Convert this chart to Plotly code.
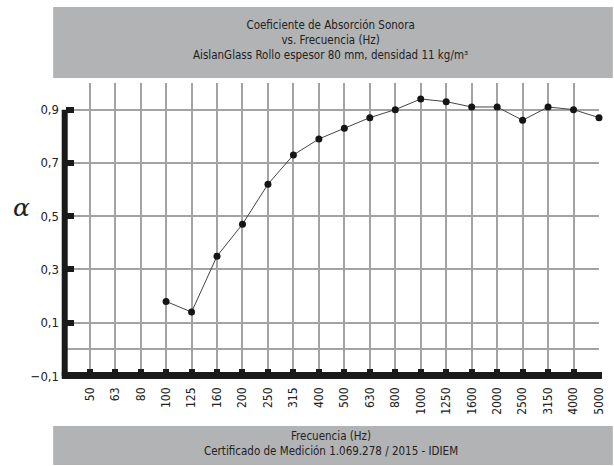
import plotly.graph_objects as go

# ---- data ----
frequencies = ["50", "63", "80", "100", "125", "160", "200", "250", "315", "400",
               "500", "630", "800", "1000", "1250", "1600", "2000", "2500", "3150",
               "4000", "5000"]
alpha_values = [None, None, None, 0.18, 0.14, 0.35, 0.47, 0.62, 0.73, 0.79,
                0.83, 0.87, 0.90, 0.94, 0.93, 0.91, 0.91, 0.86, 0.91, 0.90, 0.87]
y_tick_values = [-0.1, 0.1, 0.3, 0.5, 0.7, 0.9]
y_minor_grid = [0.0]

title_lines = ["Coeficiente de Absorción Sonora", "vs. Frecuencia (Hz)",
               "AislanGlass Rollo espesor 80 mm, densidad 11 kg/m³"]
footer_lines = ["Frecuencia (Hz)", "Certificado de Medición 1.069.278 / 2015 - IDIEM"]

FONT = "DejaVu Sans Condensed, Liberation Sans Narrow, Roboto, sans-serif"
BOX = "#b1b3b5"
GRID = "#a3a3a3"

x_idx = list(range(len(frequencies)))

fig = go.Figure()
fig.add_trace(go.Scatter(
    x=x_idx, y=alpha_values, mode="lines+markers",
    line=dict(color="#444444", width=1),
    marker=dict(color="#151515", size=7),
    cliponaxis=False, hoverinfo="skip", showlegend=False,
))

W, H = 614, 466
ml, mr, mt, mb = 66, 8, 83, 90
pw, ph = W - ml - mr, H - mt - mb


def px(x):
    return (x - ml) / pw


def py(y):
    return (H - mb - y) / ph


shapes = [
    # title box
    dict(type="rect", xref="paper", yref="paper", x0=px(53), x1=px(620), y0=py(78), y1=py(7),
         fillcolor=BOX, line=dict(width=0), layer="below"),
    # footer box
    dict(type="rect", xref="paper", yref="paper", x0=px(53), x1=px(620), y0=py(465), y1=py(426),
         fillcolor=BOX, line=dict(width=0), layer="below"),
    # thick y axis line (from -0.1 to 0.9)
    dict(type="line", xref="paper", yref="y", x0=px(64.7), x1=px(64.7),
         y0=y_tick_values[0], y1=y_tick_values[-1], line=dict(color="#1a1a1a", width=6)),
    # thick x axis line
    dict(type="line", xref="paper", yref="paper", x0=px(61.7), x1=px(609), y0=py(375.5), y1=py(375.5),
         line=dict(color="#1a1a1a", width=7)),
]

annotations = [
    dict(text="<br>".join(title_lines), xref="paper", yref="paper", x=px(334), y=py(40),
         xanchor="center", yanchor="middle", showarrow=False,
         font=dict(family=FONT, size=11.5, color="#222222")),
    dict(text="<br>".join(footer_lines), xref="paper", yref="paper", x=px(334), y=py(443),
         xanchor="center", yanchor="middle", showarrow=False,
         font=dict(family=FONT, size=11.5, color="#222222")),
    dict(text="<i>α</i>", xref="paper", yref="paper", x=px(21), y=py(207),
         xanchor="center", yanchor="middle", showarrow=False,
         font=dict(family="DejaVu Serif, Liberation Serif, serif", size=25, color="#222222")),
]

fig.update_layout(
    width=W, height=H,
    margin=dict(l=ml, r=mr, t=mt, b=mb),
    paper_bgcolor="white", plot_bgcolor="white",
    separators=",.",
    shapes=shapes, annotations=annotations,
    font=dict(family=FONT, size=13, color="#222222"),
)

fig.update_xaxes(
    range=[-0.93, len(frequencies) - 1],
    tickmode="array", tickvals=x_idx, ticktext=frequencies,
    tickangle=-90, showgrid=True, gridcolor=GRID, gridwidth=1.5,
    ticks="inside", ticklen=7, tickwidth=6, tickcolor="#1a1a1a",
    showline=False, zeroline=False, ticklabelstandoff=8,
    tickfont=dict(family=FONT, size=12, color="#222222"),
)
fig.update_yaxes(
    range=[-0.1, 1.0],
    tickmode="array", tickvals=y_tick_values, tickformat=".1f",
    showgrid=True, gridcolor=GRID, gridwidth=1.5,
    minor=dict(tickvals=y_minor_grid, showgrid=True, gridcolor=GRID, gridwidth=1.5, ticks=""),
    ticks="inside", ticklen=8, tickwidth=6, tickcolor="#1a1a1a",
    showline=False, zeroline=False, ticklabelstandoff=6,
    tickfont=dict(family=FONT, size=13, color="#222222"),
)

fig.write_html("out.html", config={"displayModeBar": False},
               post_script="document.body.style.margin='0';")
